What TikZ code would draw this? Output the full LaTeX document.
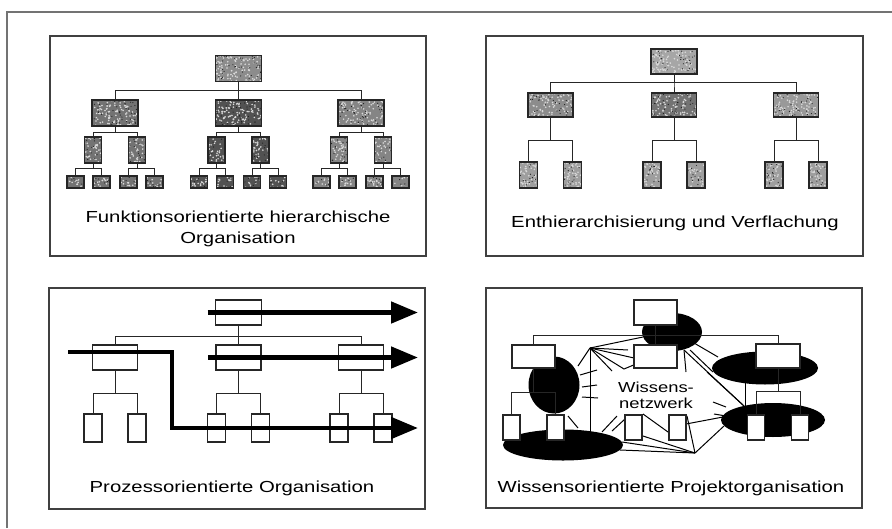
\documentclass[tikz,border=0pt]{standalone}
\usepackage{fontspec}
\setmainfont{Liberation Sans}
\usetikzlibrary{arrows.meta,shapes.geometric}
\newcommand{\stx}[1]{\scalebox{1.27}[1]{#1}}
\begin{document}
\begin{tikzpicture}[x=1pt,y=-1pt,
  frame/.style={draw=black!55,line width=1.8pt},
  panel/.style={draw=black!75,line width=1.4pt},
  conn/.style={draw=black!85,line width=1pt},
  mottle/.style={path picture={
     \foreach \n in {1,...,110}{\fill[black!15] ([shift={({(rnd-0.5)*48},{(rnd-0.5)*28})}]path picture bounding box.center) circle (0.9pt);}
     \foreach \n in {1,...,45}{\fill[black!88] ([shift={({(rnd-0.5)*48},{(rnd-0.5)*28})}]path picture bounding box.center) circle (0.6pt);}}},
  gbox/.style={rectangle,draw=black!85,line width=1.5pt,fill=black!50,inner sep=0pt,outer sep=0pt,mottle},
  wbox/.style={rectangle,draw=black!85,line width=1.1pt,fill=white,inner sep=0pt,outer sep=0pt},
  flow/.style={line width=4.8pt,-{Triangle[length=27pt,width=21pt]}},
  blob/.style={ellipse,fill=black,inner sep=0pt,outer sep=0pt},
  net/.style={draw=black,line width=1pt},
  lbl/.style={font=\fontsize{16}{21}\selectfont,align=center,text=black,inner sep=0pt},
  slbl/.style={font=\fontsize{14.5}{16}\selectfont,align=center,text=black,inner sep=0pt}
]
\pgfmathsetseed{7}
\useasboundingbox (0,0) rectangle (892,528);
\fill[white] (0,0) rectangle (892,528);

% outer frame
\coordinate (fA) at (7,528);
\coordinate (fB) at (7,12);
\coordinate (fC) at (892,12);
\draw[frame] (fA) -- (fB) -- (fC);

% panels
\draw[panel] (50,36) rectangle (426,256);
\draw[panel] (486,36) rectangle (863,256);
\draw[panel] (49,288) rectangle (425,509);
\draw[panel] (486,288) rectangle (862,508);

% ---------- Panel 1 ----------
\node[gbox,minimum width=46pt,minimum height=26pt,fill=black!45] (a0) at (238.5,68.5) {};
\foreach \i/\x/\f in {1/115/55,2/238.5/68,3/361/48} {
  \node[gbox,minimum width=46pt,minimum height=26pt,fill=black!\f] (a\i) at (\x,113) {};
  \draw[conn] (a0.south) -- ++(0,9) -| (a\i.north);
  \foreach \j/\dx/\ea/\eb in {1/-22/-39.5/-13.5,2/22/13.5/39.5} {
    \node[gbox,minimum width=17pt,minimum height=26pt,fill=black!\f] (a\i\j) at ({\x+(\dx)},150) {};
    \draw[conn] (a\i.south) -- ++(0,6) -| (a\i\j.north);
    \node[gbox,minimum width=17pt,minimum height=12pt,fill=black!\f] (a\i\j1) at ({\x+(\ea)},182) {};
    \node[gbox,minimum width=17pt,minimum height=12pt,fill=black!\f] (a\i\j2) at ({\x+(\eb)},182) {};
    \draw[conn] (a\i\j.south) -- ++(0,5) -| (a\i\j1.north);
    \draw[conn] (a\i\j.south) -- ++(0,5) -| (a\i\j2.north);
  }
}
\node[lbl] (t1) at (238,228.5) {\stx{Funktionsorientierte hierarchische}\\\stx{Organisation}};

% ---------- Panel 2 ----------
\node[gbox,minimum width=46pt,minimum height=25pt,fill=black!35] (b0) at (674,61.5) {};
\foreach \i/\x/\f in {1/550.5/45,2/674/55,3/796/40} {
  \node[gbox,minimum width=45pt,minimum height=24pt,fill=black!\f] (b\i) at (\x,105) {};
  \draw[conn] (b0.south) -- ++(0,8) -| (b\i.north);
  \foreach \j/\dx in {1/-22,2/22} {
    \node[gbox,minimum width=18pt,minimum height=26pt,fill=black!38] (b\i\j) at ({\x+(\dx)},175) {};
    \draw[conn] (b\i.south) -- ++(0,23) -| (b\i\j.north);
  }
}
\node[lbl] (t2) at (675,223) {\stx{Enthierarchisierung und Verflachung}};

% ---------- Panel 3 ----------
\node[wbox,minimum width=46pt,minimum height=25pt] (c0) at (238.5,312.5) {};
\foreach \i/\x in {1/115,2/238.5,3/361} {
  \node[wbox,minimum width=45pt,minimum height=25pt] (c\i) at (\x,357.5) {};
  \draw[conn] (c0.south) -- ++(0,11) -| (c\i.north);
  \foreach \j/\dx in {1/-22,2/22} {
    \node[wbox,minimum width=18pt,minimum height=28pt] (c\i\j) at ({\x+(\dx)},428) {};
    \draw[conn] (c\i.south) -- ++(0,23) -| (c\i\j.north);
  }
}
\coordinate (e1) at (418,312.5);
\coordinate (e2) at (418,357.5);
\coordinate (e3) at (418,428);
\coordinate (s3) at (68,352);
\coordinate (k3) at (172,352);
\coordinate (k4) at (172,428);
\draw[flow] ([xshift=-8pt]c0.west) -- (e1);
\draw[flow] ([xshift=-8pt]c2.west) -- (e2);
\draw[flow] (s3) -- (k3) -- (k4) -- (e3);
\node[lbl] (t3) at (232,488) {\stx{Prozessorientierte Organisation}};

% ---------- Panel 4 ----------
\node[blob,minimum width=60pt,minimum height=38pt] (el0) at (672,332) {};
\node[blob,minimum width=51pt,minimum height=57pt] (el1) at (554,385) {};
\node[blob,minimum width=106pt,minimum height=33pt] (el2) at (765,368) {};
\node[blob,minimum width=120pt,minimum height=31pt] (el3) at (563,445) {};
\node[blob,minimum width=104pt,minimum height=34pt] (el4) at (773,420) {};

\coordinate (h1) at (590,348);
\coordinate (h2) at (695,453);
\draw[net] (h1) -- (643,337);
\draw[net] (h1) -- (578,366);
\draw[net] (h1) -- (590,432);
\draw[net] (h1) -- (634,358);
\draw[net] (h1) -- (624,369) -- (636,364);
\draw[net] (h1) -- (612,371);
\draw[net] (h1) -- (628,350);
\draw[net] (580,375) -- (597,370);
\draw[net] (582,387) -- (597,385);
\draw[net] (582,397) -- (598,398);
\draw[net] (568,416) -- (578,428);
\draw[net] (602,432) -- (617,416);
\draw[net] (612,431) -- (625,419);
\draw[net] (622,442) -- (h2);
\draw[net] (620,450) -- (h2);
\draw[net] (h2) -- (687,416);
\draw[net] (h2) -- (724,426);
\draw[net] (h2) -- (643,436);
\draw[net] (686,424) -- (723,417);
\draw[net] (643,414) -- (668,432);
\draw[net] (694,343) -- (718,357);
\draw[net] (690,350) -- (713,372);
\draw[net] (684,350) -- (745,407);
\draw[net] (707,372) -- (743,405);
\draw[net] (745,383) -- (745,407);
\draw[net] (713,402) -- (726,407);
\draw[net] (714,414) -- (726,416);
\draw[net] (684,350) -- (686,372);

\node[wbox,minimum width=43pt,minimum height=25pt] (d0) at (655.5,312.5) {};
\node[wbox,minimum width=43pt,minimum height=23pt] (d1) at (533.5,356.5) {};
\node[wbox,minimum width=43pt,minimum height=23pt] (d2) at (655.5,356.5) {};
\node[wbox,minimum width=44pt,minimum height=24pt] (d3) at (778,356) {};
\draw[conn] (d0.south) -- (d2.north);
\draw[conn] (d0.south) -- ++(0,10) -| (d1.north);
\draw[conn] (d0.south) -- ++(0,10) -| (d3.north);
\foreach \i/\x in {1/533.5,2/655.5,3/778} {
  \foreach \j/\dx in {1/-22,2/22} {
    \node[wbox,minimum width=17pt,minimum height=25pt] (d\i\j) at ({\x+(\dx)},427.5) {};
  }
}
\draw[conn] (d1.south) -- ++(0,24) -| (d11.north);
\draw[conn] (d1.south) -- ++(0,24) -| (d12.north);
\draw[conn] (d3.south) -- ++(0,23) -| (d31.north);
\draw[conn] (d3.south) -- ++(0,23) -| (d32.north);
\node[slbl] (tw) at (656,395) {\stx{Wissens-}\\\stx{netzwerk}};
\node[lbl] (t4) at (671,488) {\stx{Wissensorientierte Projektorganisation}};
\end{tikzpicture}
\end{document}
